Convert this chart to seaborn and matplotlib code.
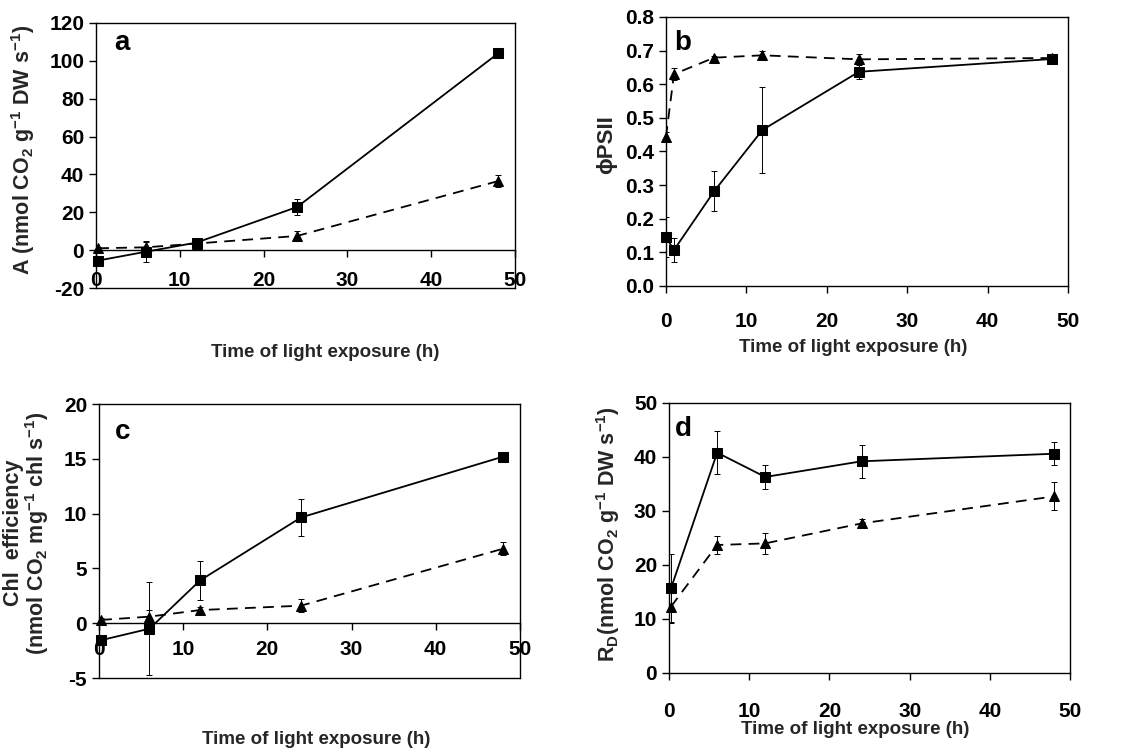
import matplotlib
matplotlib.use("Agg")
import matplotlib.pyplot as plt
from matplotlib.ticker import FormatStrFormatter
import seaborn as sns

# panel a: net photosynthesis A
time_a = [0.25, 6, 12, 24, 48]
a_square = [-5.5, -0.8, 4.0, 22.8, 104.0]
a_square_err = [1.0, 5.5, 1.0, 4.0, 1.5]
a_triangle = [1.0, 1.5, 3.5, 7.5, 36.5]
a_triangle_err = [0.5, 3.0, 0.8, 2.8, 3.2]

# panel b: phiPSII
time_b = [0, 1, 6, 12, 24, 48]
b_square = [0.145, 0.107, 0.282, 0.464, 0.637, 0.675]
b_square_err = [0.06, 0.037, 0.06, 0.127, 0.022, 0.006]
b_triangle = [0.443, 0.630, 0.679, 0.686, 0.674, 0.678]
b_triangle_err = [0.015, 0.017, 0.005, 0.013, 0.017, 0.006]

# panel c: chl efficiency
time_c = [0.25, 6, 12, 24, 48]
c_square = [-1.55, -0.5, 3.9, 9.65, 15.2]
c_square_err = [0.3, 4.25, 1.75, 1.65, 0.2]
c_triangle = [0.3, 0.6, 1.2, 1.6, 6.8]
c_triangle_err = [0.2, 0.6, 0.3, 0.6, 0.6]

# panel d: dark respiration RD
time_d = [0.25, 6, 12, 24, 48]
d_square = [15.7, 40.8, 36.3, 39.2, 40.6]
d_square_err = [6.3, 4.0, 2.3, 3.0, 2.1]
d_triangle = [12.3, 23.7, 24.0, 27.7, 32.7]
d_triangle_err = [3.0, 1.6, 2.0, 0.9, 2.6]

xticks = [0, 10, 20, 30, 40, 50]
xlabel = "Time of light exposure (h)"

sns.set_style("ticks", {"axes.edgecolor": "black", "xtick.color": "black",
                        "ytick.color": "black", "text.color": "black"})
plt.rcParams["font.family"] = ["Liberation Sans", "DejaVu Sans"]
plt.rcParams["font.weight"] = "bold"
plt.rcParams["mathtext.default"] = "regular"
plt.rcParams["axes.unicode_minus"] = False

fig = plt.figure(figsize=(11.47, 7.51), dpi=100)


def draw_panel(rect, t, sq, sq_err, tri, tri_err):
    ax = fig.add_axes(rect)
    ax.errorbar(t, tri, yerr=tri_err, fmt="none", ecolor="k", elinewidth=0.7,
                capsize=2, capthick=0.7)
    ax.errorbar(t, sq, yerr=sq_err, fmt="none", ecolor="k", elinewidth=0.7,
                capsize=2, capthick=0.7)
    sns.lineplot(x=t, y=tri, ax=ax, color="k", lw=1.3, linestyle=(0, (6, 4)),
                 marker="^", markersize=7, markeredgecolor="k", clip_on=False)
    sns.lineplot(x=t, y=sq, ax=ax, color="k", lw=1.3, clip_on=False,
                 marker="s", markersize=6.5, markeredgecolor="k")
    ax.set_xlim(0, 50)
    ax.set_xticks(xticks)
    ax.tick_params(direction="out", length=5, width=1, labelsize=15)
    for s in ax.spines.values():
        s.set_linewidth(1)
    ax.set_xlabel(xlabel, fontsize=13.5, fontweight="bold")
    ax.xaxis.label.set_va("center")
    ax.yaxis.label.set_va("center")
    return ax


# a
ax = draw_panel([0.0837, 0.6165, 0.3653, 0.3529], time_a, a_square, a_square_err,
                a_triangle, a_triangle_err)
ax.set_ylim(-20, 120)
ax.set_yticks(range(-20, 121, 20))
ax.spines["bottom"].set_position(("data", 0))
ax.axhline(-20, color="k", lw=1, clip_on=False)
ax.tick_params(axis="x", pad=10)
ax.set_ylabel(r"A (nmol CO$_2$ g$^{-1}$ DW s$^{-1}$)", fontsize=15.5, fontweight="bold")
ax.yaxis.set_label_coords(-0.174, 0.52)
ax.xaxis.set_label_coords(0.547, -0.242)
ax.text(0.062, 0.925, "a", transform=ax.transAxes, fontsize=20,
        fontweight="bold", ha="center", va="center")

# b
ax = draw_panel([0.5806, 0.6192, 0.3505, 0.3582], time_b, b_square, b_square_err,
                b_triangle, b_triangle_err)
ax.set_ylim(0, 0.8)
ax.set_yticks([i / 10 for i in range(9)])
ax.yaxis.set_major_formatter(FormatStrFormatter("%.1f"))
ax.tick_params(axis="x", pad=14)
ax.set_ylabel("ϕPSII", fontsize=16, fontweight="bold")
ax.yaxis.set_label_coords(-0.147, 0.524)
ax.xaxis.set_label_coords(0.465, -0.228)
ax.text(0.042, 0.903, "b", transform=ax.transAxes, fontsize=20,
        fontweight="bold", ha="center", va="center")

# c
ax = draw_panel([0.0863, 0.0972, 0.367, 0.3648], time_c, c_square, c_square_err,
                c_triangle, c_triangle_err)
ax.set_ylim(-5, 20)
ax.set_yticks(range(-5, 21, 5))
ax.spines["bottom"].set_position(("data", 0))
ax.axhline(-5, color="k", lw=1, clip_on=False)
ax.tick_params(axis="x", pad=7)
ax.set_ylabel("Chl  efficiency\n" + r"(nmol CO$_2$ mg$^{-1}$ chl s$^{-1}$)",
              fontsize=15.5, fontweight="bold", linespacing=1.0)
ax.yaxis.set_label_coords(-0.171, 0.529)
ax.xaxis.set_label_coords(0.515, -0.226)
ax.text(0.055, 0.898, "c", transform=ax.transAxes, fontsize=20,
        fontweight="bold", ha="center", va="center")

# d
ax = draw_panel([0.5833, 0.1039, 0.3496, 0.3595], time_d, d_square, d_square_err,
                d_triangle, d_triangle_err)
ax.set_ylim(0, 50)
ax.set_yticks(range(0, 51, 10))
ax.tick_params(axis="x", pad=16)
ax.set_ylabel(r"R$_D$(nmol CO$_2$ g$^{-1}$ DW s$^{-1}$)", fontsize=15.5, fontweight="bold")
ax.yaxis.set_label_coords(-0.152, 0.515)
ax.xaxis.set_label_coords(0.464, -0.211)
ax.text(0.035, 0.904, "d", transform=ax.transAxes, fontsize=20,
        fontweight="bold", ha="center", va="center")

fig.savefig("out.png", dpi=100)
